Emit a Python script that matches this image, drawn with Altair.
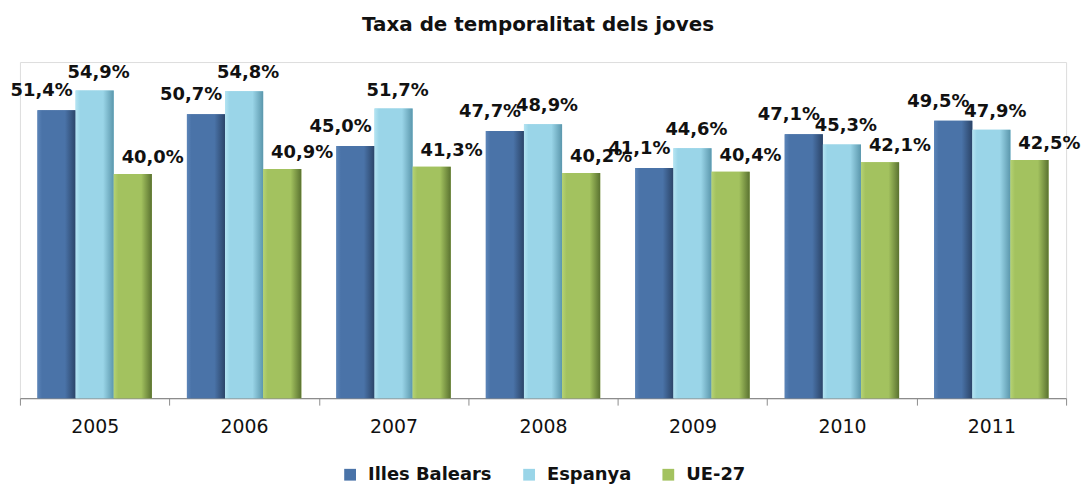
import altair as alt
import pandas as pd

years = ["2005", "2006", "2007", "2008", "2009", "2010", "2011"]
series = ["Illes Balears", "Espanya", "UE-27"]
illes_balears = [51.4, 50.7, 45.0, 47.7, 41.1, 47.1, 49.5]
espanya = [54.9, 54.8, 51.7, 48.9, 44.6, 45.3, 47.9]
ue27 = [40.0, 40.9, 41.3, 40.2, 40.4, 42.1, 42.5]

main_colors = ["#4A73A8", "#9AD5E8", "#A3C25F"]
dark_colors = ["#2B4468", "#5B97AC", "#5A7230"]
light_colors = ["#5B84B8", "#B4E4F2", "#B5D274"]
label_dx = [-15, 4, 20]
label_dy = [-14, -13, -11]

rows = []
for s, vals in zip(series, [illes_balears, espanya, ue27]):
    for y, v in zip(years, vals):
        rows.append({"year": y, "serie": s, "value": v,
                     "label": f"{v:.1f}".replace(".", ",") + "%"})
df = pd.DataFrame(rows)

x_enc = alt.X("year:N", sort=years, title=None,
              scale=alt.Scale(paddingInner=0, paddingOuter=0),
              axis=alt.Axis(tickBand="extent", labelAngle=0, labelFont="DejaVu Sans",
                            labelFontSize=19, labelColor="#111111", labelPadding=13,
                            tickSize=7, tickColor="#8C8C8C", domainColor="#8C8C8C",
                            domainWidth=1.2, ticks=True, grid=False))
xo_enc = alt.XOffset("serie:N", sort=series,
                     scale=alt.Scale(domain=series, paddingInner=0, paddingOuter=0.46))
y_enc = alt.Y("value:Q", axis=None, scale=alt.Scale(domain=[0, 60], nice=False, zero=True))

base = alt.Chart(df)

bars = base.mark_bar().encode(
    x=x_enc, xOffset=xo_enc, y=y_enc,
    color=alt.Color("serie:N", sort=series,
                    scale=alt.Scale(domain=series, range=main_colors),
                    legend=alt.Legend(title=None, orient="none", direction="horizontal",
                                      legendX=323, legendY=406, labelFont="DejaVu Sans",
                                      labelFontWeight="bold", labelFontSize=18,
                                      labelColor="#111111", symbolType="square",
                                      symbolSize=140, symbolStrokeWidth=0,
                                      columnPadding=28, labelOffset=9, padding=0)),
)

layers = [bars]
for i, s in enumerate(series):
    grad = alt.Gradient(
        gradient="linear", x1=0, x2=1, y1=0, y2=0,
        stops=[alt.GradientStop(offset=0, color=light_colors[i]),
               alt.GradientStop(offset=0.12, color=main_colors[i]),
               alt.GradientStop(offset=0.72, color=main_colors[i]),
               alt.GradientStop(offset=1, color=dark_colors[i])])
    layers.append(
        base.transform_filter(alt.datum.serie == s)
        .mark_bar(color=grad)
        .encode(x=x_enc, xOffset=xo_enc, y=y_enc)
    )
    layers.append(
        base.transform_filter(alt.datum.serie == s)
        .mark_text(font="DejaVu Sans", fontWeight="bold", fontSize=18, color="#111111",
                   baseline="alphabetic", dy=label_dy[i], dx=label_dx[i])
        .encode(x=x_enc, xOffset=xo_enc, y=y_enc, text="label:N")
    )

chart = alt.layer(*layers).properties(
    width=1052, height=338,
    autosize=alt.AutoSizeParams(type="none"),
    padding={"left": 12, "top": 53, "right": 17, "bottom": 88},
    title=alt.TitleParams("Taxa de temporalitat dels joves", font="DejaVu Sans", fontWeight="bold",
                          fontSize=20, color="#111111", anchor="middle", frame="group",
                          offset=27, dx=-5),
).configure_view(stroke=None).configure(background="white")

chart.save("out.html", embed_options={"renderer": "svg", "actions": False})
